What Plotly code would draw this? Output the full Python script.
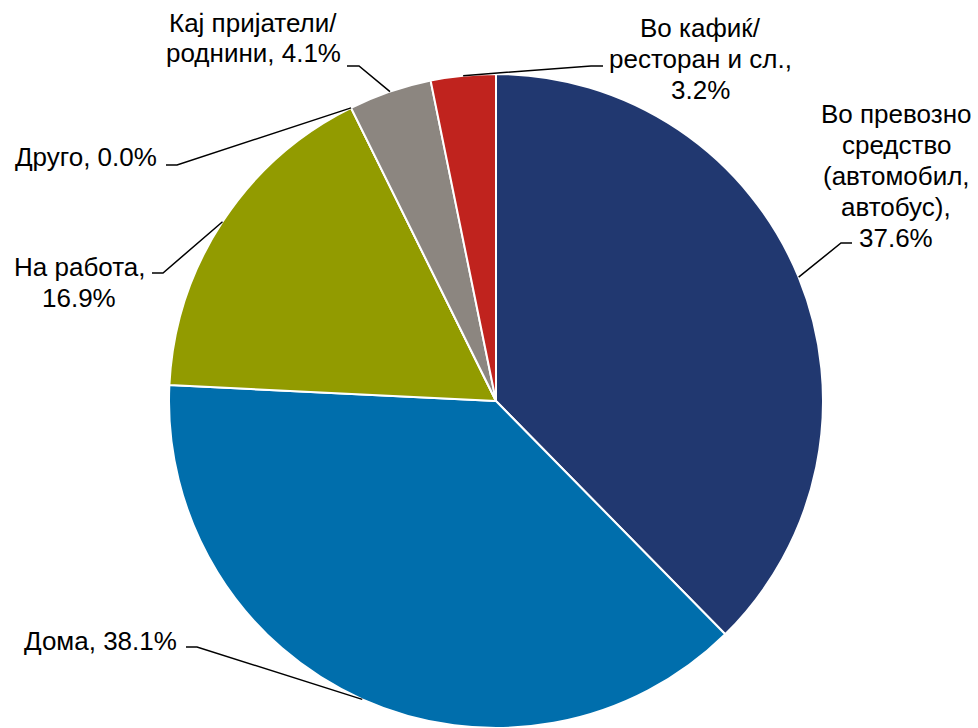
import math
import plotly.graph_objects as go

# data
categories = ["Во превозно средство (автомобил, автобус)", "Дома", "На работа",
              "Друго", "Кај пријатели/роднини", "Во кафиќ/ресторан и сл."]
label_lines = [["Во превозно", "средство", "(автомобил,", "автобус),"],
               ["Дома,"], ["На работа,"], ["Друго,"], ["Кај пријатели/", "роднини,"],
               ["Во кафиќ/", "ресторан и сл.,"]]
values = [37.6, 38.1, 16.9, 0.0, 4.1, 3.2]
colors = ["#213870", "#006EAC", "#929B00", "#8C8680", "#8C8680", "#C0231E"]

W, H = 978, 728
cx, cy, r = 496, 401, 327  # pie centre / radius in pixels
LINE = 31  # line spacing of the labels, px

# label placement: text centre (px), elbow point (px), horizontal run, value on own line?
placement = [
    dict(tx=896, ty=176, ex=852, ey=243, run=-11, newline=True),
    dict(tx=100, ty=641, ex=186, ey=647, run=11, newline=False),
    dict(tx=79, ty=282, ex=152, ey=273, run=11, newline=True),
    dict(tx=86, ty=157, ex=166, ey=165, run=11, newline=False),
    dict(tx=253, ty=38, ex=347, ey=66, run=12, newline=False),
    dict(tx=700, ty=59, ex=603, ey=66, run=-12, newline=True),
]

fig = go.Figure(go.Pie(
    labels=categories, values=values, sort=False, direction="clockwise", rotation=0,
    marker=dict(colors=colors, line=dict(color="white", width=2)),
    textinfo="none", showlegend=False, hoverinfo="label+percent",
    domain=dict(x=[(cx - r) / W, (cx + r) / W], y=[(H - cy - r) / H, (H - cy + r) / H]),
))

px = lambda x: x / W
py = lambda y: 1 - y / H

total = sum(values)
cum = 0
shapes, annotations = [], []
for lines, v, p in zip(label_lines, values, placement):
    mid = (cum + v / 2) / total * 2 * math.pi
    cum += v
    ax = cx + r * math.sin(mid)
    ay = cy - r * math.cos(mid)
    path = (f"M {px(p['ex'])} {py(p['ey'])} L {px(p['ex'] + p['run'])} {py(p['ey'])} "
            f"L {px(ax)} {py(ay)}")
    shapes.append(dict(type="path", path=path, xref="paper", yref="paper",
                       line=dict(color="black", width=1.5)))

    pct = f"{v:.1f}%"
    if p["newline"]:
        rows = lines + [pct]
    else:
        rows = lines[:-1] + [f"{lines[-1]} {pct}"]
    n = len(rows)
    for i, row in enumerate(rows):
        annotations.append(dict(text=row, x=px(p["tx"]), y=py(p["ty"] + (i - (n - 1) / 2) * LINE),
                                xref="paper", yref="paper", showarrow=False,
                                xanchor="center", yanchor="middle",
                                font=dict(family="Liberation Sans, Arial", size=26, color="black")))

fig.update_layout(width=W, height=H, margin=dict(l=0, r=0, t=0, b=0),
                  paper_bgcolor="white", plot_bgcolor="white",
                  shapes=shapes, annotations=annotations)

fig.write_html("out.html", config={"displayModeBar": False},
               post_script="document.body.style.margin='0';")
